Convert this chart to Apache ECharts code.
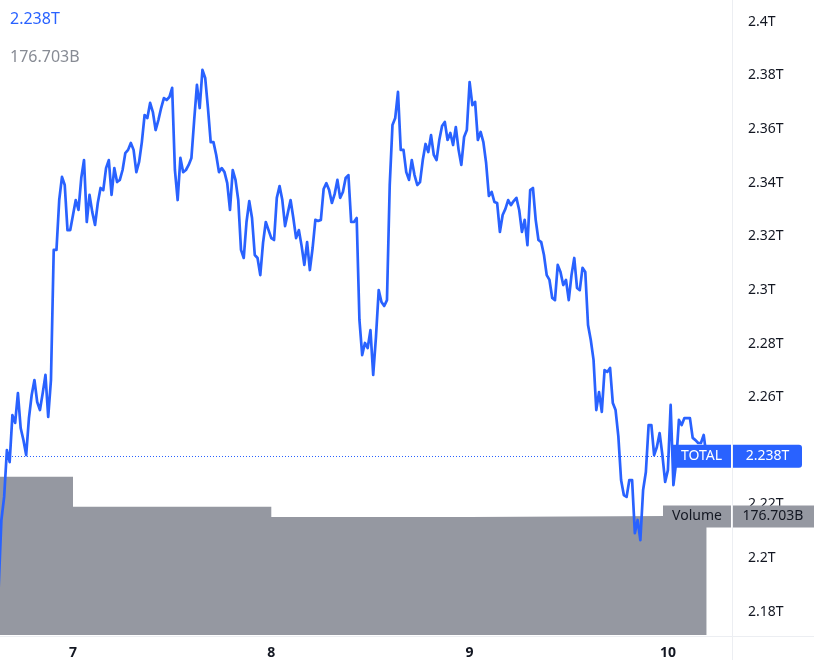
<!DOCTYPE html>
<html>
<head>
<meta charset="utf-8">
<script src="https://cdn.jsdelivr.net/npm/echarts@6/dist/echarts.min.js"></script>
<style>
  html, body { margin: 0; padding: 0; background: #ffffff; }
  #chart { width: 814px; height: 660px; }
</style>
</head>
<body>
<div id="chart"></div>
<script>
// ---- data (TOTAL crypto market cap, trillions USD; 20-minute samples) ----
const seriesStartDay = 6.625;      // day-of-month 6, 15:00
const seriesStepDays = 1 / 72;     // 20 minutes
const totalValues = [
  2.1888, 2.2142, 2.2228, 2.2403, 2.2358, 2.2533, 2.2504, 2.2615, 2.2485, 2.2440,
  2.2384, 2.2522, 2.2608, 2.2664, 2.2582, 2.2552, 2.2615, 2.2683, 2.2526, 2.2664,
  2.3149, 2.3149, 2.3335, 2.3421, 2.3391, 2.3223, 2.3223, 2.3279, 2.3335, 2.3298,
  2.3417, 2.3484, 2.3253, 2.3354, 2.3290, 2.3242, 2.3324, 2.3380, 2.3372, 2.3454,
  2.3484, 2.3354, 2.3454, 2.3402, 2.3410, 2.3447, 2.3510, 2.3522, 2.3548, 2.3522,
  2.3439, 2.3477, 2.3551, 2.3652, 2.3641, 2.3697, 2.3663, 2.3596, 2.3633, 2.3678,
  2.3715, 2.3708, 2.3719, 2.3753, 2.3447, 2.3335, 2.3492, 2.3439, 2.3447, 2.3466,
  2.3492, 2.3633, 2.3764, 2.3678, 2.3820, 2.3790, 2.3678, 2.3551, 2.3551, 2.3503,
  2.3439, 2.3454, 2.3439, 2.3398, 2.3298, 2.3447, 2.3410, 2.3335, 2.3149, 2.3119,
  2.3253, 2.3331, 2.3268, 2.3130, 2.3119, 2.3055, 2.3175, 2.3253, 2.3223, 2.3193,
  2.3186, 2.3343, 2.3387, 2.3335, 2.3238, 2.3287, 2.3335, 2.3268, 2.3193, 2.3223,
  2.3164, 2.3093, 2.3178, 2.3074, 2.3156, 2.3261, 2.3257, 2.3261, 2.3376, 2.3398,
  2.3372, 2.3324, 2.3357, 2.3410, 2.3343, 2.3365, 2.3417, 2.3428, 2.3253, 2.3253,
  2.3268, 2.2888, 2.2757, 2.2802, 2.2783, 2.2850, 2.2683, 2.2824, 2.2999, 2.2955,
  2.2940, 2.2962, 2.3391, 2.3615, 2.3641, 2.3738, 2.3522, 2.3522, 2.3439, 2.3410,
  2.3484, 2.3428, 2.3391, 2.3402, 2.3484, 2.3544, 2.3514, 2.3577, 2.3503, 2.3484,
  2.3559, 2.3611, 2.3626, 2.3559, 2.3585, 2.3540, 2.3607, 2.3522, 2.3466, 2.3570,
  2.3596, 2.3775, 2.3689, 2.3701, 2.3559, 2.3589, 2.3551, 2.3473, 2.3350, 2.3365,
  2.3328, 2.3324, 2.3216, 2.3279, 2.3302, 2.3335, 2.3316, 2.3331, 2.3343, 2.3298,
  2.3216, 2.3261, 2.3167, 2.3372, 2.3380, 2.3261, 2.3186, 2.3178, 2.3130, 2.3055,
  2.3037, 2.2970, 2.2962, 2.3093, 2.3067, 2.3018, 2.3037, 2.2962, 2.3055, 2.3119,
  2.3007, 2.2999, 2.3082, 2.3067, 2.2869, 2.2813, 2.2739, 2.2552, 2.2619, 2.2545,
  2.2701, 2.2694, 2.2709, 2.2578, 2.2552, 2.2455, 2.2291, 2.2235, 2.2228, 2.2291,
  2.2291, 2.2093, 2.2142, 2.2067, 2.2254, 2.2321, 2.2496, 2.2496, 2.2384, 2.2414,
  2.2466, 2.2384, 2.2284, 2.2328, 2.2571, 2.2272, 2.2358, 2.2515, 2.2496, 2.2522,
  2.2522, 2.2522, 2.2448, 2.2440, 2.2429, 2.2429, 2.2459, 2.2380
];
// daily volume (billions USD)
const volumeDays = [6, 7, 8, 9, 10];
const volumeValues = [236.0, 191.3, 176.0, 177.4, 176.703];
// axis ticks
const xTickDays = [7, 8, 9, 10];
const yTickValues = [2.18, 2.2, 2.22, 2.24, 2.26, 2.28, 2.3, 2.32, 2.34, 2.36, 2.38, 2.4];
const lastTotalLabel = '2.238T';
const lastVolumeLabel = '176.703B';
const symbolName = 'TOTAL';
const volumeName = 'Volume';

// ---- build ----
const FONT = 'Noto Sans';
const BLUE = '#2962ff';
const GREY = '#9598a1';
const TEXT = '#131722';

const lineData = totalValues.map((v, i) => [seriesStartDay + i * seriesStepDays, v]);
const lastDay = seriesStartDay + (totalValues.length - 1) * seriesStepDays;
const volData = volumeDays.map((d, i) => [d, volumeValues[i]]);
volData.push([lastDay, volumeValues[volumeValues.length - 1]]);
const lastTotal = totalValues[totalValues.length - 1];
const lastVol = volumeValues[volumeValues.length - 1];

const X_MIN = 6.63187, X_MAX = 10.32325;
const Y_MIN = 2.17132, Y_MAX = 2.40808;

const chart = echarts.init(document.getElementById('chart'), null, { renderer: 'canvas' });
chart.setOption({
  animation: false,
  backgroundColor: '#ffffff',
  textStyle: { fontFamily: FONT },
  grid: { left: 0, right: 82, top: 0, bottom: 25, containLabel: false },
  xAxis: {
    type: 'value', min: X_MIN, max: X_MAX,
    axisLine: { show: false }, axisTick: { show: false }, splitLine: { show: false },
    axisLabel: {
      customValues: xTickDays, margin: 11,
      formatter: v => String(Math.round(v)),
      color: TEXT, fontSize: 14, fontWeight: 'bold', fontFamily: FONT
    }
  },
  yAxis: [{
    type: 'value', position: 'right', min: Y_MIN, max: Y_MAX, scale: true,
    axisLine: { show: false }, axisTick: { show: false }, splitLine: { show: false },
    axisLabel: {
      customValues: yTickValues, margin: 16,
      formatter: v => (+v.toFixed(2)) + 'T',
      color: TEXT, fontSize: 14, fontFamily: FONT
    }
  }, {
    type: 'value', min: 0, max: 946.9, show: false
  }],
  series: [{
    type: 'line', name: volumeName, yAxisIndex: 1, step: 'end', data: volData,
    symbol: 'none', lineStyle: { width: 0 }, z: 1,
    areaStyle: { color: GREY, opacity: 1 }, silent: true
  }, {
    type: 'line', name: symbolName, yAxisIndex: 0, data: lineData,
    symbol: 'none', z: 3,
    lineStyle: { color: BLUE, width: 2.7, join: 'round', cap: 'round' }
  }]
});

function addOverlays() {
  const gridRight = chart.convertToPixel({ xAxisIndex: 0 }, X_MAX);
  const yTot = chart.convertToPixel({ yAxisIndex: 0 }, lastTotal);
  const yVol = chart.convertToPixel({ yAxisIndex: 1 }, lastVol);
  const W = chart.getWidth(), H = chart.getHeight();
  const bottom = chart.convertToPixel({ yAxisIndex: 0 }, Y_MIN);
  const yDot = Math.round(yTot) + 0.5;
  const h = 23;
  chart.setOption({
    graphic: [
      { type: 'line', z: 50, silent: true, shape: { x1: gridRight + 0.5, y1: 0, x2: gridRight + 0.5, y2: H }, style: { stroke: '#eceef2', lineWidth: 1 } },
      { type: 'line', z: 50, silent: true, shape: { x1: 0, y1: bottom + 1.5, x2: W, y2: bottom + 1.5 }, style: { stroke: '#eceef2', lineWidth: 1 } },
      // last-price dotted line
      { type: 'line', z: 2, silent: true, shape: { x1: 0, y1: yDot, x2: gridRight, y2: yDot }, style: { stroke: BLUE, lineWidth: 1, lineDash: [1, 2] } },
      // TOTAL tag
      { type: 'rect', z: 100, shape: { x: gridRight - 60, y: yTot - h / 2, width: 59, height: h }, style: { fill: BLUE } },
      { type: 'text', z: 101, x: gridRight - 30.5, y: yTot, style: { text: symbolName, fill: '#ffffff', font: '14px "' + FONT + '"', align: 'center', verticalAlign: 'middle' } },
      { type: 'rect', z: 100, shape: { x: gridRight + 1, y: yTot - h / 2, width: 69, height: h, r: [0, 3, 3, 0] }, style: { fill: BLUE } },
      { type: 'text', z: 101, x: gridRight + 35.5, y: yTot, style: { text: lastTotalLabel, fill: '#ffffff', font: '14px "' + FONT + '"', align: 'center', verticalAlign: 'middle' } },
      // Volume tag
      { type: 'rect', z: 100, shape: { x: gridRight - 69, y: yVol - 11, width: 68, height: 22 }, style: { fill: GREY } },
      { type: 'text', z: 101, x: gridRight - 35, y: yVol, style: { text: volumeName, fill: TEXT, font: '14px "' + FONT + '"', align: 'center', verticalAlign: 'middle' } },
      { type: 'rect', z: 100, shape: { x: gridRight + 1, y: yVol - 11, width: W - gridRight - 1, height: 22 }, style: { fill: GREY } },
      { type: 'text', z: 101, x: gridRight + 41, y: yVol, style: { text: lastVolumeLabel, fill: TEXT, font: '14px "' + FONT + '"', align: 'center', verticalAlign: 'middle' } },
      // legend values (top-left)
      { type: 'text', z: 101, x: 10, y: 19, style: { text: lastTotalLabel, fill: BLUE, font: '16px "' + FONT + '"', align: 'left', verticalAlign: 'middle' } },
      { type: 'text', z: 101, x: 10, y: 57, style: { text: lastVolumeLabel, fill: '#878b94', font: '16px "' + FONT + '"', align: 'left', verticalAlign: 'middle' } }
    ]
  });
}
addOverlays();
</script>
</body>
</html>
